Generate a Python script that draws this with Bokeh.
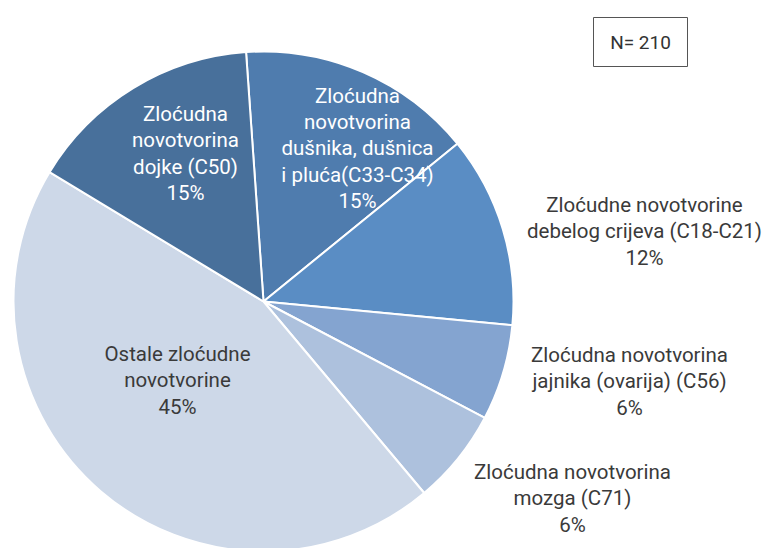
import math
from bokeh.plotting import figure
from bokeh.models import ColumnDataSource
from bokeh.core.properties import value
from bokeh.embed import file_html
from bokeh.resources import INLINE

# ---- data (clockwise order) ----
categories = [
    "Zloćudna\nnovotvorina\ndušnika, dušnica\ni pluća(C33-C34)",
    "Zloćudne novotvorine\ndebelog crijeva (C18-C21)",
    "Zloćudna novotvorina\njajnika (ovarija) (C56)",
    "Zloćudna novotvorina\nmozga (C71)",
    "Ostale zloćudne\nnovotvorine",
    "Zloćudna\nnovotvorina\ndojke (C50)",
]
counts = [32, 26, 13, 13, 94, 32]
total_n = 210
colors = ["#4f7cae", "#5a8dc4", "#84a4d0", "#adc1dd", "#cdd8e8", "#48709b"]
label_colors = ["white", "#3a3a3a", "#3a3a3a", "#3a3a3a", "#3a3a3a", "white"]

# ---- layout ----
W, H = 769, 548
def px(x):
    return x
def py(y):
    return H - y

cx, cy, R = px(263), py(301), 250
start_deg = -4.0
label_pos = [(357, 148), (644, 231), (629, 381), (572, 498), (177, 380), (185, 153)]

tot = sum(counts)
a0, a1 = [], []
acc = start_deg
for c in counts:
    a0.append(acc)
    acc += 360.0 * c / tot
    a1.append(acc)

src = ColumnDataSource(dict(
    start=[math.radians(90 - a) for a in a0],
    end=[math.radians(90 - a) for a in a1],
    color=colors,
))

p = figure(width=W, height=H, x_range=(0, W), y_range=(0, H),
           output_backend="svg", toolbar_location=None, min_border=0)
p.axis.visible = False
p.grid.visible = False
p.outline_line_color = None

p.wedge(x=cx, y=cy, radius=R, start_angle="start", end_angle="end",
        direction="clock", fill_color="color", line_color="white",
        line_width=2, source=src)

pcts = [round(100.0 * c / total_n) for c in counts]
texts = [f"{cat}\n{pc}%" for cat, pc in zip(categories, pcts)]
lsrc = ColumnDataSource(dict(
    x=[px(x) for x, _ in label_pos],
    y=[py(y) for _, y in label_pos],
    text=texts,
    color=label_colors,
))
p.text(x="x", y="y", text="text", text_color="color", source=lsrc,
       text_align="center", text_baseline="middle",
       text_font=value("Roboto"), text_font_size="20.5px",
       text_line_height=1.1)

# N box
p.quad(left=px(593), right=px(687), top=py(17), bottom=py(66),
       fill_color="white", line_color="#555555", line_width=1)
p.text(x=[px(640)], y=[py(42)], text=[f"N= {total_n}"],
       text_align="center", text_baseline="middle",
       text_font=value("Roboto"), text_font_size="19px", text_color="#333333")

open("out.html", "w").write(file_html(p, INLINE))
